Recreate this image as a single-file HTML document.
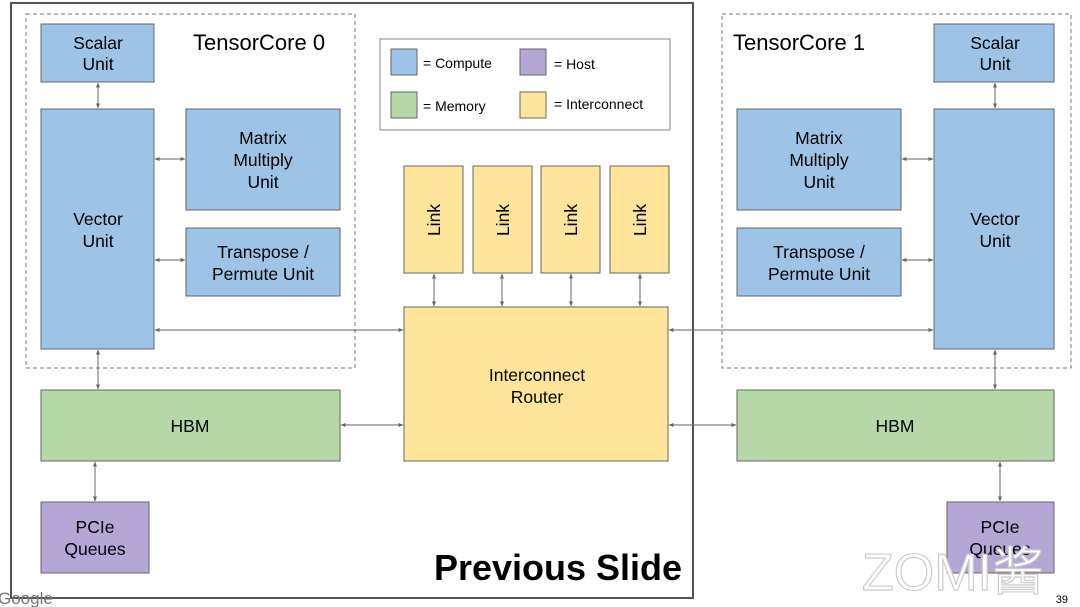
<!DOCTYPE html>
<html><head><style>body{margin:0;background:#fff}svg{display:block}text{font-family:"Liberation Sans",sans-serif;fill:#000}</style></head><body>
<svg width="1080" height="607" viewBox="0 0 1080 607" xmlns="http://www.w3.org/2000/svg">
<defs><marker id="a" viewBox="0 0 10 10" refX="9" refY="5" markerWidth="5" markerHeight="5" orient="auto-start-reverse"><path d="M0,1 L10,5 L0,9 z" fill="#666"/></marker></defs>
<rect x="11" y="3" width="682" height="595" fill="none" stroke="#555" stroke-width="2"/>
<rect x="26" y="14" width="329" height="354" fill="none" stroke="#777" stroke-dasharray="4,3"/>
<rect x="722" y="14" width="349" height="354" fill="none" stroke="#777" stroke-dasharray="4,3"/>
<g stroke="#666" stroke-width="1">
<rect x="41" y="24" width="113" height="58" fill="#9dc3e6"/>
<rect x="41" y="109" width="113" height="240" fill="#9dc3e6"/>
<rect x="186" y="109" width="154" height="101" fill="#9dc3e6"/>
<rect x="186" y="228" width="154" height="68" fill="#9dc3e6"/>
<rect x="41" y="390" width="299" height="71" fill="#b6d7a8"/>
<rect x="41" y="502" width="108" height="71" fill="#b4a7d6"/>
<rect x="404" y="307" width="264" height="154" fill="#ffe599"/>
<rect x="404" y="166" width="59" height="107" fill="#ffe599"/>
<rect x="473" y="166" width="59" height="107" fill="#ffe599"/>
<rect x="541" y="166" width="59" height="107" fill="#ffe599"/>
<rect x="610" y="166" width="59" height="107" fill="#ffe599"/>
<rect x="934" y="24" width="120" height="58" fill="#9dc3e6"/>
<rect x="934" y="109" width="120" height="240" fill="#9dc3e6"/>
<rect x="737" y="109" width="164" height="101" fill="#9dc3e6"/>
<rect x="737" y="228" width="164" height="68" fill="#9dc3e6"/>
<rect x="737" y="390" width="317" height="71" fill="#b6d7a8"/>
<rect x="947" y="502" width="107" height="71" fill="#b4a7d6"/>
<rect x="380" y="39" width="290" height="91" fill="#fff" stroke="#888"/>
<rect x="391" y="49" width="26" height="26" fill="#9dc3e6"/>
<rect x="391" y="92" width="26" height="26" fill="#b6d7a8"/>
<rect x="520" y="49" width="26" height="26" fill="#b4a7d6"/>
<rect x="520" y="92" width="26" height="26" fill="#ffe599"/>
</g>
<g stroke="#666" stroke-width="1" marker-start="url(#a)" marker-end="url(#a)">
<line x1="98" y1="83" x2="98" y2="108"/>
<line x1="155" y1="159" x2="185" y2="159"/>
<line x1="155" y1="260" x2="185" y2="260"/>
<line x1="155" y1="330" x2="403" y2="330"/>
<line x1="98" y1="350" x2="98" y2="389"/>
<line x1="95" y1="462" x2="95" y2="501"/>
<line x1="341" y1="425" x2="403" y2="425"/>
<line x1="434" y1="274" x2="434" y2="306"/>
<line x1="502" y1="274" x2="502" y2="306"/>
<line x1="571" y1="274" x2="571" y2="306"/>
<line x1="640" y1="274" x2="640" y2="306"/>
<line x1="669" y1="330" x2="933" y2="330"/>
<line x1="669" y1="425" x2="736" y2="425"/>
<line x1="995" y1="83" x2="995" y2="108"/>
<line x1="902" y1="159" x2="933" y2="159"/>
<line x1="902" y1="260" x2="933" y2="260"/>
<line x1="995" y1="350" x2="995" y2="389"/>
<line x1="1000" y1="462" x2="1000" y2="501"/>
</g>
<g font-size="17.5" text-anchor="middle">
<text x="98" y="49">Scalar</text><text x="98" y="70">Unit</text>
<text x="98" y="225">Vector</text><text x="98" y="247">Unit</text>
<text x="263" y="144">Matrix</text><text x="263" y="166">Multiply</text><text x="263" y="188">Unit</text>
<text x="263" y="258">Transpose /</text><text x="263" y="280">Permute Unit</text>
<text x="190" y="432">HBM</text>
<text x="95" y="533">PCIe</text><text x="95" y="555">Queues</text>
<text x="537" y="381">Interconnect</text><text x="537" y="403">Router</text>
<text x="995" y="49">Scalar</text><text x="995" y="70">Unit</text>
<text x="995" y="225">Vector</text><text x="995" y="247">Unit</text>
<text x="819" y="144">Matrix</text><text x="819" y="166">Multiply</text><text x="819" y="188">Unit</text>
<text x="819" y="258">Transpose /</text><text x="819" y="280">Permute Unit</text>
<text x="895" y="432">HBM</text>
<text x="1000" y="533">PCIe</text><text x="1000" y="555">Queues</text>
<text transform="translate(440,220) rotate(-90)">Link</text>
<text transform="translate(509,220) rotate(-90)">Link</text>
<text transform="translate(577,220) rotate(-90)">Link</text>
<text transform="translate(646,220) rotate(-90)">Link</text>
</g>
<g font-size="14">
<text x="423" y="68">= Compute</text><text x="554" y="69">= Host</text>
<text x="423" y="111">= Memory</text><text x="554" y="109">= Interconnect</text>
</g>
<text x="193" y="50" font-size="22">TensorCore 0</text>
<text x="733" y="50" font-size="22">TensorCore 1</text>
<text x="682" y="580" font-size="36" font-weight="bold" text-anchor="end" textLength="248" lengthAdjust="spacingAndGlyphs">Previous Slide</text>
<text x="-2" y="604" font-size="17" style="fill:#777">Google</text>
<text x="1068" y="603" font-size="11" text-anchor="end">39</text>
<text x="862" y="590" font-size="52" style="fill:#fff;stroke:#ccc;stroke-width:1.2">ZOMI酱</text>
</svg>
</body></html>
